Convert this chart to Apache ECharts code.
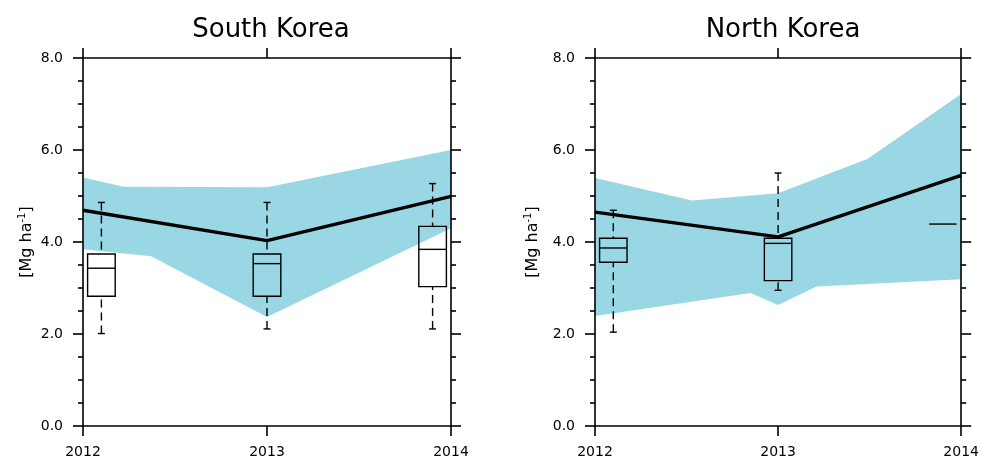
<!DOCTYPE html>
<html><head><meta charset="utf-8">
<script src="https://cdn.jsdelivr.net/npm/echarts@6/dist/echarts.min.js"></script>
<style>html,body{margin:0;padding:0;background:#fff}#c{width:982px;height:462px}</style>
</head><body><div id="c"></div>
<script>
// ---------- data ----------
const years = [2012, 2013, 2014];
const panelTitles = ['South Korea', 'North Korea'];
const yUnit = '[Mg ha{sup|-1}]';

// South Korea
const skMean = [4.69, 4.03, 4.99];
const skBandUpper = [[2012, 5.40], [2012.22, 5.20], [2013, 5.19], [2014, 6.00]];
const skBandLower = [[2012, 3.84], [2012.37, 3.69], [2013, 2.37], [2014, 4.30]];
// [year, min, q1, median, q3, max]
const skBoxes = [[2012, 2.01, 2.82, 3.43, 3.74, 4.86],
                 [2013, 2.11, 2.82, 3.53, 3.74, 4.86],
                 [2014, 2.11, 3.03, 3.84, 4.34, 5.27]];

// North Korea
const nkMean = [4.65, 4.11, 5.45];
const nkBandUpper = [[2012, 5.39], [2012.53, 4.90], [2013, 5.06], [2013.49, 5.81], [2014, 7.22]];
const nkBandLower = [[2012, 2.39], [2012.85, 2.89], [2013, 2.63], [2013.21, 3.03], [2014, 3.19]];
const nkBoxes = [[2012, 2.04, 3.56, 3.87, 4.08, 4.69],
                 [2013, 2.95, 3.16, 3.97, 4.08, 5.50],
                 [2014, 4.39, 4.39, 4.39, 4.39, 4.39]];

// ---------- styling ----------
const FONT = 'DejaVu Sans';
const BAND_COLOR = '#99d7e4';
const BOX_SHIFT = [0.1, 0, -0.1];
const BOX_W = 0.15;
const CAP_HALF = 3.5;
const AXW = 1.6;

const chart = echarts.init(document.getElementById('c'));

function bandRender(upper, lower) {
  return function (params, api) {
    const pts = upper.map(p => api.coord(p)).concat(lower.slice().reverse().map(p => api.coord(p)));
    return { type: 'polygon', shape: { points: pts }, style: { fill: BAND_COLOR, stroke: null } };
  };
}

function boxRender(params, api) {
  const i = params.dataIndex;
  const x = api.value(0) + BOX_SHIFT[i];
  const mn = api.value(1), q1 = api.value(2), md = api.value(3), q3 = api.value(4), mx = api.value(5);
  const half = api.size([BOX_W, 0])[0] / 2;
  const cx = api.coord([x, md])[0];
  const Y = v => api.coord([x, v])[1];
  const solid = { stroke: '#000', lineWidth: 1.4, fill: null };
  const dashed = { stroke: '#000', lineWidth: 1.4, fill: null, lineDash: [8, 5] };
  const ch = [];
  if (mx > q3) {
    ch.push({ type: 'line', shape: { x1: cx, y1: Y(mx), x2: cx, y2: Y(q3) }, style: dashed });
    ch.push({ type: 'line', shape: { x1: cx - CAP_HALF, y1: Y(mx), x2: cx + CAP_HALF, y2: Y(mx) }, style: solid });
  }
  if (mn < q1) {
    ch.push({ type: 'line', shape: { x1: cx, y1: Y(mn), x2: cx, y2: Y(q1) }, style: dashed });
    ch.push({ type: 'line', shape: { x1: cx - CAP_HALF, y1: Y(mn), x2: cx + CAP_HALF, y2: Y(mn) }, style: solid });
  }
  if (q3 > q1) {
    ch.push({ type: 'rect', shape: { x: cx - half, y: Y(q3), width: 2 * half, height: Y(q1) - Y(q3) }, style: { stroke: '#000', lineWidth: 1.4, fill: null } });
  }
  ch.push({ type: 'line', shape: { x1: cx - half, y1: Y(md), x2: cx + half, y2: Y(md) }, style: solid });
  return { type: 'group', children: ch };
}

const axLine = { show: true, onZero: false, lineStyle: { color: '#000', width: AXW } };
const axTick = { show: true, inside: false, length: 10, lineStyle: { color: '#000', width: AXW } };
const lbl = { color: '#000', fontFamily: FONT, fontSize: 14 };

const grids = [
  { left: 83, right: 531, top: 58, bottom: 36 },
  { left: 595, right: 20, top: 58, bottom: 36 }
];
const xAxes = [], yAxes = [], series = [];
const panels = [
  { mean: skMean, up: skBandUpper, lo: skBandLower, boxes: skBoxes, nameGap: 43 },
  { mean: nkMean, up: nkBandUpper, lo: nkBandLower, boxes: nkBoxes, nameGap: 53 }
];
panels.forEach((p, g) => {
  const xb = { gridIndex: g, type: 'value', min: 2012, max: 2014, interval: 1, z: 10,
    axisLine: axLine, axisTick: axTick, splitLine: { show: false } };
  xAxes.push(Object.assign({}, xb, { position: 'bottom',
    axisLabel: Object.assign({ margin: 19, showMinLabel: true, showMaxLabel: true, formatter: v => String(v) }, lbl) }));
  xAxes.push(Object.assign({}, xb, { position: 'top', axisLabel: { show: false } }));
  const yb = { gridIndex: g, type: 'value', min: 0, max: 8, interval: 2, z: 10,
    axisLine: axLine, axisTick: axTick, splitLine: { show: false },
    minorTick: { show: true, splitNumber: 4, length: 5, lineStyle: { color: '#000', width: AXW } },
    minorSplitLine: { show: false } };
  yAxes.push(Object.assign({}, yb, { position: 'left',
    axisLabel: Object.assign({ margin: 20, formatter: v => v.toFixed(1) }, lbl),
    name: yUnit, nameLocation: 'middle', nameRotate: 90, nameGap: p.nameGap,
    nameTextStyle: { color: '#000', fontFamily: FONT, fontSize: 16, lineHeight: 19,
      rich: { sup: { fontFamily: FONT, fontSize: 10, lineHeight: 10, verticalAlign: 'top', color: '#000' } } } }));
  yAxes.push(Object.assign({}, yb, { position: 'right', axisLabel: { show: false } }));
  const xi = g * 2, yi = g * 2;
  series.push({ type: 'custom', xAxisIndex: xi, yAxisIndex: yi, z: 1, silent: true,
    renderItem: bandRender(p.up, p.lo), data: [[2012, 0]], clip: false });
  series.push({ type: 'custom', xAxisIndex: xi, yAxisIndex: yi, z: 3, silent: true,
    renderItem: boxRender, data: p.boxes, encode: { x: 0, y: [1, 2, 3, 4, 5] } });
  series.push({ type: 'line', xAxisIndex: xi, yAxisIndex: yi, z: 4, silent: true, symbol: 'none',
    lineStyle: { color: '#000', width: 3.4 }, data: years.map((y, k) => [y, p.mean[k]]) });
});

chart.setOption({
  animation: false,
  backgroundColor: '#fff',
  grid: grids,
  xAxis: xAxes,
  yAxis: yAxes,
  series: series,
  graphic: [
    { type: 'text', x: 271, y: 30, style: { text: panelTitles[0], fontFamily: FONT, fontSize: 26, fill: '#000', textAlign: 'center', textVerticalAlign: 'middle' } },
    { type: 'text', x: 783, y: 30, style: { text: panelTitles[1], fontFamily: FONT, fontSize: 26, fill: '#000', textAlign: 'center', textVerticalAlign: 'middle' } }
  ]
});
</script></body></html>
